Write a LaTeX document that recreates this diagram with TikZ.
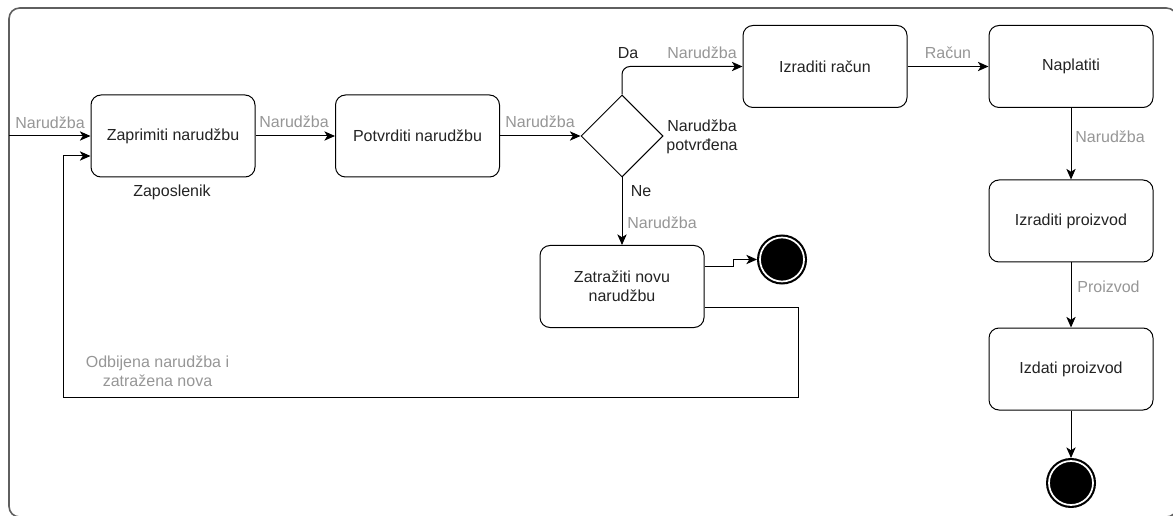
\documentclass[tikz,border=0pt]{standalone}
\usepackage{fontspec}
\setmainfont{Liberation Sans}
\usetikzlibrary{shapes.geometric,arrows.meta,calc}
\definecolor{lblgray}{RGB}{150,150,150}
\definecolor{txtdark}{RGB}{35,35,35}
\definecolor{frmgray}{RGB}{95,95,95}
\begin{document}
\begin{tikzpicture}[x=0.75pt,y=-0.75pt,
  font=\fontsize{12pt}{14.25pt}\selectfont,
  box/.style={draw=black, line width=0.75pt, rounded corners=7.5pt, minimum width=123pt, minimum height=61.5pt, inner sep=0pt, align=center, text=txtdark},
  dec/.style={draw=black, line width=0.75pt, diamond, aspect=1, minimum width=61.5pt, minimum height=61.5pt, inner sep=0pt},
  endst/.style={circle, fill=black, draw=black, line width=1.6pt, double=white, double distance=1.3pt, minimum size=33pt, inner sep=0pt, outer sep=2.25pt},
  arr/.style={draw=black, line width=0.75pt, -{Stealth[length=8pt,width=7pt,inset=2.2pt]}},
  lbl/.style={text=lblgray, inner sep=0pt},
  txtl/.style={text=txtdark, inner sep=0pt},
  frame/.style={draw=frmgray, line width=1.2pt, rounded corners=8pt}]
\useasboundingbox (0,0) rectangle (1173,516);
\begin{scope}
\clip (0,0) rectangle (1173,516);
\draw[frame] (9,8) rectangle (1177,517);
\end{scope}
% nodes
\node[box] (zap) at (173,136) {Zaprimiti narudžbu};
\node[box] (pot) at (417.5,136) {Potvrditi narudžbu};
\node[dec] (dia) at (622,136) {};
\node[box] (rac) at (825,66.5) {Izraditi račun};
\node[box] (nap) at (1071,66.5) {Naplatiti};
\node[box] (izp) at (1071,221) {Izraditi proizvod};
\node[box] (izd) at (1071,369) {Izdati proizvod};
\node[endst] (end2) at (1071,483) {};
\node[box] (zat) at (622,286.5) {Zatražiti novu\\narudžbu};
\node[endst] (end1) at (782,259.5) {};
% labels
\node[lbl] (l1) at (50,123) {Narudžba};
\node[lbl] (l2) at (294,122) {Narudžba};
\node[lbl] (l3) at (540,122) {Narudžba};
\node[lbl] (l4) at (702,53) {Narudžba};
\node[lbl] (l5) at (948,53) {Račun};
\node[lbl] (l6) at (1110,137) {Narudžba};
\node[lbl] (l7) at (1108.5,287) {Proizvod};
\node[lbl] (l8) at (662,223) {Narudžba};
\node[lbl, align=center] (l9) at (157.5,371) {Odbijena narudžba i\\zatražena nova};
\node[txtl] (da) at (628,53) {Da};
\node[txtl] (ne) at (641,191) {Ne};
\node[txtl, align=center] (np) at (702,136.5) {Narudžba\\potvrđena};
\node[txtl] (zp) at (172,192) {Zaposlenik};
% coordinates
\coordinate (in) at (9,136);
\coordinate (lr) at (798,397);
\coordinate (ll) at (63,397);
% connectors
\draw[arr] (in) -- (zap.west);
\draw[arr] (zap.east) -- (pot.west);
\draw[arr] (pot.east) -- (dia.west);
\draw[arr, rounded corners=6pt] (dia.north) |- (rac.west);
\draw[arr] (rac.east) -- (nap.west);
\draw[arr] (nap.south) -- (izp.north);
\draw[arr] (izp.south) -- (izd.north);
\draw[arr] (izd.south) -- (end2.north);
\draw[arr] (dia.south) -- (zat.north);
\draw[arr] ($(zat.east)+(0,-20)$) -- ++(29,0) |- (end1.west);
\draw[arr] ($(zat.east)+(0,21)$) -| (lr) -- (ll) |- ($(zap.west)+(0,20)$);
\end{tikzpicture}
\end{document}
